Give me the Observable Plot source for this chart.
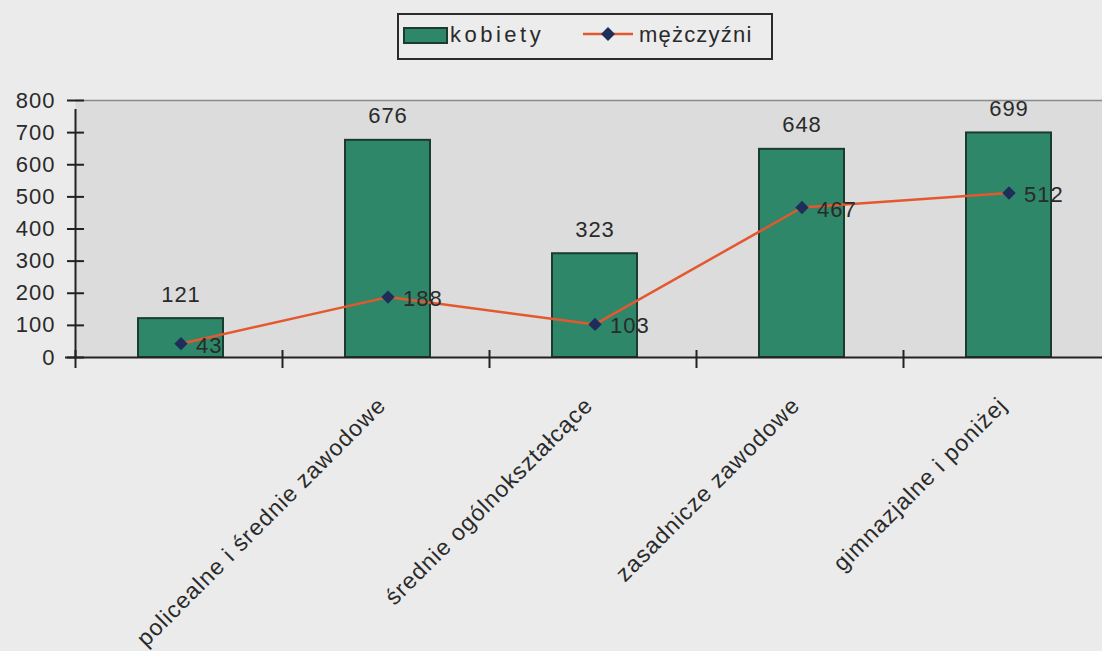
<!DOCTYPE html>
<html>
<head>
<meta charset="utf-8">
<script src="https://cdn.jsdelivr.net/npm/d3@7"></script>
<script src="https://cdn.jsdelivr.net/npm/@observablehq/plot@0.6"></script>
<style>
  html, body { margin: 0; padding: 0; }
  body { background: #ebebeb; width: 1102px; height: 651px; overflow: hidden;
         font-family: "Liberation Sans", Arial, sans-serif; color: #2a2a2a; }
  #legend { position: relative; height: 70px; width: 1102px; }
  #legend .box { position: absolute; left: 397px; top: 13px; width: 376px; height: 47px;
                 box-sizing: border-box; border: 2px solid #2b2b2b; background: #ececec; }
  #legend .sw { position: absolute; left: 403px; top: 27px; width: 45px; height: 17px;
                box-sizing: border-box; background: #2e8769; border: 2px solid #1b3b30; }
  #legend .lbl { position: absolute; top: 24px; font-size: 22px; line-height: 22px; letter-spacing: 3.5px; }
  #legend svg { position: absolute; left: 583px; top: 25px; }
  #chart { width: 1110px; }
  #chart svg { display: block; max-width: none !important; }
</style>
</head>
<body>
<div id="legend">
  <div class="box"></div>
  <div class="sw"></div>
  <div class="lbl" style="left:450px">kobiety</div>
  <svg width="52" height="18" viewBox="0 0 52 18">
    <line x1="0" y1="9" x2="50" y2="9" stroke="#e5582f" stroke-width="2.5"></line>
    <path d="M25 2 L32 9 L25 16 L18 9 Z" fill="#1e2d5a"></path>
  </svg>
  <div class="lbl" style="left:639px; letter-spacing:1.2px">mężczyźni</div>
</div>
<div id="chart"></div>
<script>
const categories = ["wyższe", "policealne i średnie zawodowe", "średnie ogólnokształcące", "zasadnicze zawodowe", "gimnazjalne i poniżej"];
const tickLabels = ["", "policealne i średnie zawodowe", "średnie ogólnokształcące", "zasadnicze zawodowe", "gimnazjalne i poniżej"];
const kobiety = [121, 676, 323, 648, 699];
const mezczyzni = [43, 188, 103, 467, 512];
const yTicks = [0, 100, 200, 300, 400, 500, 600, 700, 800];

const data = categories.map((c, i) => ({c, label: tickLabels[i], k: kobiety[i], m: mezczyzni[i]}));

const step = 1035 / categories.length;

const chart = Plot.plot({
  width: 1110,
  height: 581,
  marginLeft: 75,
  marginRight: 0,
  marginTop: 30,
  marginBottom: 294,
  style: {background: "transparent", fontFamily: "'Liberation Sans', Arial, sans-serif", fontSize: "22px", color: "#2a2a2a", letterSpacing: "1px", overflow: "visible", maxWidth: "none"},
  x: {domain: categories, paddingInner: 0.59, paddingOuter: 0.295, axis: null},
  y: {domain: [0, 800], axis: null},
  marks: [
    Plot.frame({fill: "#dcdcdc", stroke: null}),
    Plot.ruleY([800], {stroke: "#8a8a8a", strokeWidth: 1.5}),
    Plot.barY(data, {x: "c", y: "k", fill: "#2e8769", stroke: "#1b3b30", strokeWidth: 2, dx: 2}),
    Plot.lineY(data, {x: "c", y: "m", stroke: "#e5582f", strokeWidth: 2.5, dx: 2}),
    Plot.dot(data, {x: "c", y: "m", symbol: "diamond2", r: 6, fill: "#1e2d5a", stroke: null, dx: 2}),
    Plot.text(data, {x: "c", y: "k", text: d => String(d.k), dy: -24, dx: 2, fill: "#2a2a2a"}),
    Plot.text(data, {x: "c", y: "m", text: d => String(d.m), textAnchor: "start", dx: 17, dy: 2, fill: "#2a2a2a"}),
    // x axis line and boundary ticks
    Plot.ruleY([0], {stroke: "#222", strokeWidth: 2, insetLeft: -10}),
    Plot.ruleX(categories, {x: d => d, dx: -step / 2, y1: 0, y2: 0, insetTop: -7, insetBottom: -11, stroke: "#222", strokeWidth: 2}),
    // y axis line
    Plot.ruleX([categories[0]], {x: d => d, dx: -step / 2, y1: 0, y2: 800, insetBottom: -9, stroke: "#222", strokeWidth: 2}),
    // y ticks crossing the axis
    Plot.axisY({ticks: yTicks, tickSize: 17, dx: 9, tickFormat: () => "", stroke: "#222", strokeWidth: 2}),
    Plot.axisY({ticks: yTicks, tickSize: 0, tickPadding: 20, fill: "#2a2a2a"}),
    // rotated category labels
    Plot.text(data, {x: "c", y: 0, text: "label", rotate: -45, textAnchor: "end", lineAnchor: "middle", dx: -4, dy: 44, fontSize: 23, fill: "#2a2a2a", style: {letterSpacing: "3px"}})
  ]
});
document.getElementById("chart").appendChild(chart);
</script>
</body>
</html>
